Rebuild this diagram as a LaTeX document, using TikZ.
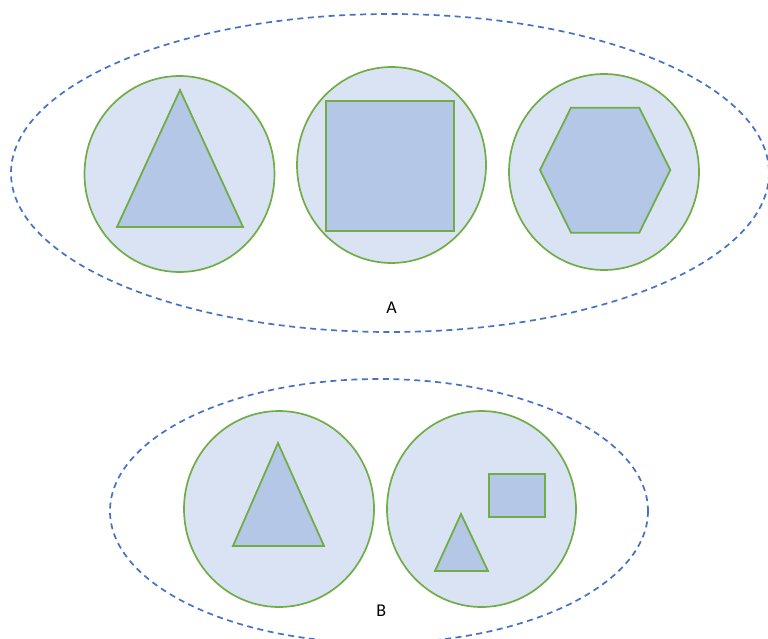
\documentclass[tikz,border=0pt]{standalone}
\usepackage{fontspec}
\setmainfont{Carlito}
\usepackage{tikz}
\definecolor{setblue}{HTML}{4472C4}
\definecolor{cellfill}{HTML}{DAE3F3}
\definecolor{shapefill}{HTML}{B4C7E7}
\definecolor{cellgreen}{HTML}{70AD47}

\begin{document}
\begin{tikzpicture}[x=1pt,y=-1pt,font=\fontsize{18}{21}\selectfont,
  setline/.style={draw=setblue,line width=1.7pt,dash pattern=on 6pt off 4.5pt},
  cell/.style={fill=cellfill,draw=cellgreen,line width=1.7pt},
  piece/.style={fill=shapefill,draw=cellgreen,line width=1.8pt,line join=miter}]
 \useasboundingbox (0,0) rectangle (768,639);
 % set A
 \draw[setline] (390,173) ellipse (379 and 159);
 \node (labA) at (391.5,307.5) {A};
 \draw[cell] (179.5,174) ellipse (95 and 98);
 \draw[piece] (180,90) -- (243,227) -- (117,227) -- cycle;
 \draw[cell] (391.5,165) ellipse (94.5 and 98);
 \draw[piece] (326,100.7) rectangle (453.7,231);
 \draw[cell] (604,172) ellipse (95 and 98);
 \draw[piece] (540,170) -- (571,107.7) -- (639.3,107.7) -- (670.3,170) -- (639.3,232.7) -- (571,232.7) -- cycle;
 % set B
 \draw[setline] (379,511) ellipse (269 and 132);
 \node (labB) at (381.3,611) {B};
 \draw[cell] (279,509) ellipse (95 and 98);
 \draw[piece] (278,443) -- (324,546) -- (233,546) -- cycle;
 \draw[cell] (481.5,509) ellipse (94.5 and 98);
 \draw[piece] (489,474) rectangle (545,517);
 \draw[piece] (461,514) -- (488,571) -- (435,571) -- cycle;
\end{tikzpicture}
\end{document}
